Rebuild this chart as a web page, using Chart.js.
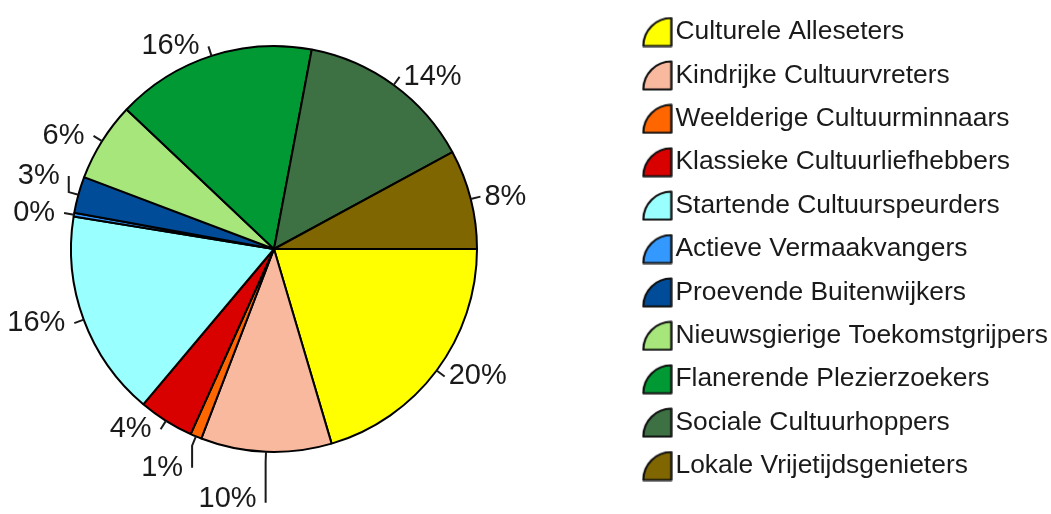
<!DOCTYPE html>
<html>
<head>
<meta charset="utf-8">
<script src="https://cdn.jsdelivr.net/npm/chart.js@4.4.1/dist/chart.umd.min.js"></script>
<style>
  html, body { margin: 0; padding: 0; background: #fff; }
  #wrap { width: 1051px; height: 514px; position: relative; }
</style>
</head>
<body>
<div id="wrap"><canvas id="chart_segments"></canvas></div>
<script>
var segmentLabels = [
  'Culturele Alleseters',
  'Kindrijke Cultuurvreters',
  'Weelderige Cultuurminnaars',
  'Klassieke Cultuurliefhebbers',
  'Startende Cultuurspeurders',
  'Actieve Vermaakvangers',
  'Proevende Buitenwijkers',
  'Nieuwsgierige Toekomstgrijpers',
  'Flanerende Plezierzoekers',
  'Sociale Cultuurhoppers',
  'Lokale Vrijetijdsgenieters'
];
var segmentShares = [20.4, 10.4, 0.9, 4.4, 16.4, 0.3, 2.9, 6.3, 15.9, 14.1, 7.9];
var segmentColors = [
  '#ffff00', '#f9b99f', '#ff6600', '#d90000', '#99ffff', '#3399ff',
  '#004c99', '#a6e67a', '#009933', '#3d7042', '#806600'
];
// extra vertical leader length (px) for labels pushed away from neighbours
var labelDrop = [0, 41, 22, 0, 0, 0, -16, 0, 0, 0, 0];

var PIE_CX = 274, PIE_CY = 249, PIE_R = 203;
var FONT = '"Liberation Sans", Arial, Helvetica, sans-serif';
var INK = '#1a1a1a';

function legendSymbol(color) {
  var c = document.createElement('canvas');
  c.width = 31; c.height = 31;
  var g = c.getContext('2d');
  g.beginPath();
  g.moveTo(1.5, 29.5);
  g.lineTo(29.5, 29.5);
  g.lineTo(29.5, 1.5);
  g.arc(29.5, 29.5, 28, -Math.PI / 2, Math.PI, true);
  g.closePath();
  g.fillStyle = color;
  g.fill();
  g.lineWidth = 2.2;
  g.strokeStyle = '#111';
  g.lineJoin = 'round';
  g.stroke();
  return c;
}
var legendSymbols = segmentColors.map(legendSymbol);

var pieGenerate = (Chart.overrides && Chart.overrides.pie)
  ? Chart.overrides.pie.plugins.legend.labels.generateLabels
  : Chart.DoughnutController.overrides.plugins.legend.labels.generateLabels;

var pieLabels = {
  id: 'pieLabels',
  afterLayout: function(chart) {
    var pad = PIE_R + 8;
    chart.chartArea = {
      left: PIE_CX - pad, right: PIE_CX + pad,
      top: PIE_CY - pad, bottom: PIE_CY + pad,
      width: 2 * pad, height: 2 * pad
    };
  },
  afterDatasetsDraw: function(chart) {
    var ctx = chart.ctx;
    var meta = chart.getDatasetMeta(0);
    var total = segmentShares.reduce(function(a, b) { return a + b; }, 0);
    ctx.save();
    ctx.font = '29px ' + FONT;
    ctx.fillStyle = INK;
    ctx.strokeStyle = INK;
    ctx.lineWidth = 2;
    ctx.textBaseline = 'middle';
    meta.data.forEach(function(arc, i) {
      var p = arc.getProps(['x', 'y', 'startAngle', 'endAngle', 'outerRadius']);
      var mid = (p.startAngle + p.endAngle) / 2;
      var cos = Math.cos(mid), sin = Math.sin(mid);
      var r0 = p.outerRadius, r1 = p.outerRadius + 10;
      var x1 = p.x + r1 * cos, y1 = p.y + r1 * sin;
      var y2 = y1 + labelDrop[i];
      ctx.beginPath();
      ctx.moveTo(p.x + r0 * cos, p.y + r0 * sin);
      ctx.lineTo(x1, y1);
      if (labelDrop[i]) ctx.lineTo(x1, y2);
      ctx.stroke();
      var onRight = cos > 0.05;
      ctx.textAlign = onRight ? 'left' : 'right';
      var ty = labelDrop[i] > 30 ? y2 - 4 : y2;
      ctx.fillText(Math.round(segmentShares[i] / total * 100) + '%', onRight ? x1 + 4 : x1 - 9, ty);
    });
    ctx.restore();
  }
};

var chart_segments = new Chart(document.getElementById('chart_segments'), {
  type: 'pie',
  data: {
    labels: segmentLabels,
    datasets: [{
      data: segmentShares,
      backgroundColor: segmentColors,
      borderColor: '#000',
      borderWidth: 2,
      radius: PIE_R,
      rotation: 90,
      hoverOffset: 0
    }]
  },
  options: {
    animation: false,
    responsive: true,
    maintainAspectRatio: false,
    layout: { padding: { top: 0, bottom: 16, left: 0, right: -7 } },
    plugins: {
      tooltip: { enabled: false },
      legend: {
        position: 'right',
        align: 'center',
        labels: {
          usePointStyle: true,
          pointStyleWidth: 10,
          padding: 17,
          color: INK,
          font: { family: FONT, size: 26.4 },
          generateLabels: function(chart) {
            var items = pieGenerate(chart);
            items.forEach(function(it, i) { it.pointStyle = legendSymbols[i]; });
            return items;
          }
        }
      }
    }
  },
  plugins: [pieLabels]
});
</script>
</body>
</html>
